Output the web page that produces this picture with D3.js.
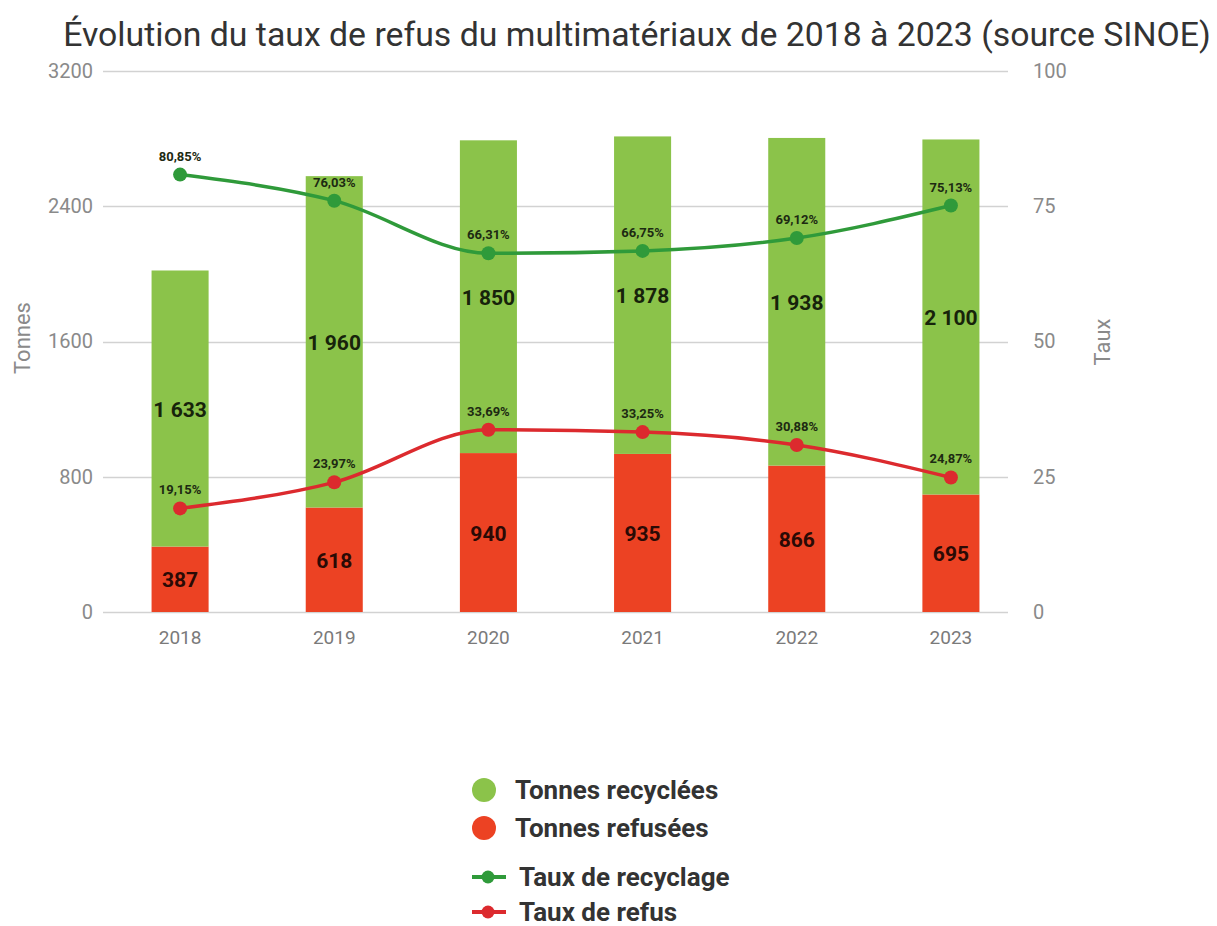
<!DOCTYPE html>
<html>
<head>
<meta charset="utf-8">
<script src="https://cdn.jsdelivr.net/npm/d3@7"></script>
<style>
  body { margin: 0; background: #fff; font-family: Roboto, "Noto Sans", sans-serif; }
</style>
</head>
<body>
<div id="chart-area"></div>
<script>
// data
var years = ['2018', '2019', '2020', '2021', '2022', '2023'];
var tonnesRecyclees = [1633, 1960, 1850, 1878, 1938, 2100];
var tonnesRefusees = [387, 618, 940, 935, 866, 695];
var tauxRecyclage = [80.85, 76.03, 66.31, 66.75, 69.12, 75.13];
var tauxRefus = [19.15, 23.97, 33.69, 33.25, 30.88, 24.87];
var leftTicks = [0, 800, 1600, 2400, 3200];
var rightTicks = [0, 25, 50, 75, 100];

var W = 1217, H = 926;
var plot = {left: 103, right: 1008, top: 71, bottom: 612};

var svg = d3.select('#chart-area')
  .append('svg')
    .attr('width', W)
    .attr('height', H);

var x = d3.scaleBand()
  .domain(years)
  .range([103, 1028])
  .paddingInner(0.63)
  .paddingOuter(0.315);
var yLeft = d3.scaleLinear().domain([0, 3200]).range([plot.bottom, plot.top]);
var yRight = d3.scaleLinear().domain([0, 100]).range([plot.bottom, plot.top]);

var frNum = function(v) { return d3.format(',')(v).replace(/,/g, ' '); };
var frPct = function(v) { return d3.format('.2f')(v).replace('.', ',') + '%'; };

// Title
svg.append('text')
  .attr('x', 637)
  .attr('y', 46)
  .attr('text-anchor', 'middle')
  .attr('font-size', '33.8px')
  .attr('fill', '#333')
  .text('Évolution du taux de refus du multimatériaux de 2018 à 2023 (source SINOE)');

// Gridlines
svg.append('g')
  .selectAll('line')
  .data(leftTicks)
  .enter().append('line')
    .attr('x1', plot.left)
    .attr('x2', plot.right)
    .attr('y1', function(d) { return Math.round(yLeft(d)) + 0.5; })
    .attr('y2', function(d) { return Math.round(yLeft(d)) + 0.5; })
    .attr('stroke', '#d2d2d2')
    .attr('stroke-width', 1.5);

// Left axis
var leftAxis = svg.append('g')
  .attr('transform', 'translate(' + plot.left + ',0)')
  .call(d3.axisLeft(yLeft).tickValues(leftTicks).tickFormat(d3.format('d')).tickSize(0).tickPadding(10));
leftAxis.select('.domain').remove();
leftAxis.selectAll('text').attr('font-size', '20px').attr('fill', '#8a8a8a').attr('font-family', 'Roboto');

// Right axis
var rightAxis = svg.append('g')
  .attr('transform', 'translate(' + plot.right + ',0)')
  .call(d3.axisRight(yRight).tickValues(rightTicks).tickSize(0).tickPadding(25));
rightAxis.select('.domain').remove();
rightAxis.selectAll('text').attr('font-size', '20px').attr('fill', '#8a8a8a').attr('font-family', 'Roboto');

// X axis
var xAxis = svg.append('g')
  .attr('transform', 'translate(0,' + plot.bottom + ')')
  .call(d3.axisBottom(x).tickSize(0).tickPadding(19));
xAxis.select('.domain').remove();
xAxis.selectAll('text').attr('font-size', '19px').attr('fill', '#7a7a7a').attr('font-family', 'Roboto');

// Axis titles
svg.append('text')
  .attr('transform', 'translate(30,338) rotate(-90)')
  .attr('text-anchor', 'middle')
  .attr('font-size', '22px')
  .attr('fill', '#8a8a8a')
  .text('Tonnes');
svg.append('text')
  .attr('transform', 'translate(1110,342) rotate(-90)')
  .attr('text-anchor', 'middle')
  .attr('font-size', '22px')
  .attr('fill', '#8a8a8a')
  .text('Taux');

// Bars
var rows = years.map(function(y, i) {
  return {year: y, refus: tonnesRefusees[i], recy: tonnesRecyclees[i]};
});
var colorRecy = '#8bc34a';
var colorRefus = '#ec4223';

var barG = svg.append('g');
barG.selectAll('rect.refus')
  .data(rows)
  .enter().append('rect')
    .attr('class', 'refus')
    .attr('x', function(d) { return x(d.year); })
    .attr('width', x.bandwidth())
    .attr('y', function(d) { return yLeft(d.refus); })
    .attr('height', function(d) { return yLeft(0) - yLeft(d.refus); })
    .attr('fill', colorRefus);
barG.selectAll('rect.recy')
  .data(rows)
  .enter().append('rect')
    .attr('class', 'recy')
    .attr('x', function(d) { return x(d.year); })
    .attr('width', x.bandwidth())
    .attr('y', function(d) { return yLeft(d.refus + d.recy); })
    .attr('height', function(d) { return yLeft(d.refus) - yLeft(d.refus + d.recy); })
    .attr('fill', colorRecy);

// Bar labels
barG.selectAll('text.recy')
  .data(rows)
  .enter().append('text')
    .attr('x', function(d) { return x(d.year) + x.bandwidth() / 2; })
    .attr('y', function(d) { return (yLeft(d.refus) + yLeft(d.refus + d.recy)) / 2 + 8; })
    .attr('text-anchor', 'middle')
    .attr('font-size', '21px')
    .attr('font-weight', 'bold')
    .attr('fill', '#17230b')
    .text(function(d) { return frNum(d.recy); });
barG.selectAll('text.refus')
  .data(rows)
  .enter().append('text')
    .attr('x', function(d) { return x(d.year) + x.bandwidth() / 2; })
    .attr('y', function(d) { return (yLeft(0) + yLeft(d.refus)) / 2 + 8; })
    .attr('text-anchor', 'middle')
    .attr('font-size', '21px')
    .attr('font-weight', 'bold')
    .attr('fill', '#2a0a05')
    .text(function(d) { return frNum(d.refus); });

// Lines
var series = [
  {name: 'Taux de recyclage', values: tauxRecyclage, color: '#2f9a3a'},
  {name: 'Taux de refus', values: tauxRefus, color: '#dc2a2e'}
];
var line = d3.line()
  .x(function(d, i) { return x(years[i]) + x.bandwidth() / 2; })
  .y(function(d) { return yRight(d); })
  .curve(d3.curveMonotoneX);

series.forEach(function(s) {
  var g = svg.append('g');
  g.append('path')
    .attr('d', line(s.values))
    .attr('fill', 'none')
    .attr('stroke', s.color)
    .attr('stroke-width', 3.5);
  g.selectAll('circle')
    .data(s.values)
    .enter().append('circle')
      .attr('cx', function(d, i) { return x(years[i]) + x.bandwidth() / 2; })
      .attr('cy', function(d) { return yRight(d); })
      .attr('r', 7)
      .attr('fill', s.color);
  g.selectAll('text')
    .data(s.values)
    .enter().append('text')
      .attr('x', function(d, i) { return x(years[i]) + x.bandwidth() / 2; })
      .attr('y', function(d) { return yRight(d) - 14; })
      .attr('text-anchor', 'middle')
      .attr('font-size', '13px')
      .attr('font-weight', 'bold')
      .attr('fill', '#1d2a12')
      .text(function(d) { return frPct(d); });
});

// Legend
var legend = svg.append('g');
var legendItems = [
  {label: 'Tonnes recyclées', color: colorRecy, type: 'dot', y: 790},
  {label: 'Tonnes refusées', color: colorRefus, type: 'dot', y: 828},
  {label: 'Taux de recyclage', color: series[0].color, type: 'line', y: 877},
  {label: 'Taux de refus', color: series[1].color, type: 'line', y: 912}
];
legendItems.forEach(function(item) {
  var row = legend.append('g').attr('transform', 'translate(0,' + item.y + ')');
  if (item.type === 'dot') {
    row.append('circle')
      .attr('cx', 484)
      .attr('cy', 0)
      .attr('r', 12)
      .attr('fill', item.color);
  } else {
    row.append('line')
      .attr('x1', 472)
      .attr('x2', 506)
      .attr('y1', 0)
      .attr('y2', 0)
      .attr('stroke', item.color)
      .attr('stroke-width', 4);
    row.append('circle')
      .attr('cx', 488)
      .attr('cy', 0)
      .attr('r', 6.5)
      .attr('fill', item.color);
  }
  row.append('text')
    .attr('x', item.type === 'dot' ? 515 : 519)
    .attr('y', 9)
    .attr('font-size', '26px')
    .attr('font-weight', 'bold')
    .attr('fill', '#333')
    .text(item.label);
});
</script>
</body>
</html>
